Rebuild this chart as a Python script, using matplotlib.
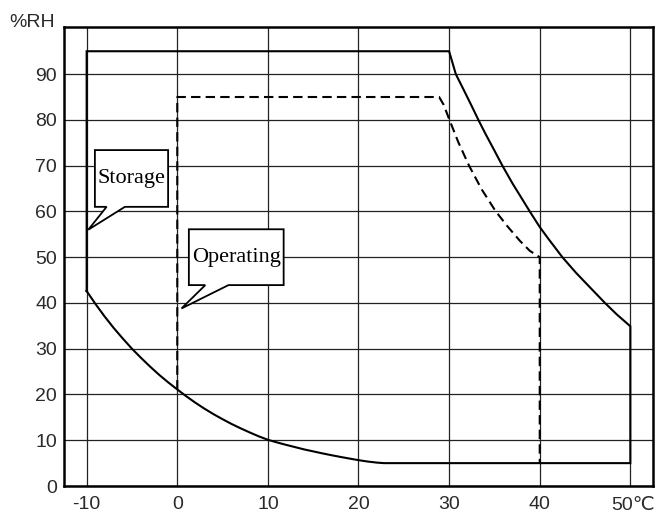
import numpy as np
import matplotlib.pyplot as plt
from matplotlib.patches import Polygon
from matplotlib.transforms import blended_transform_factory

# storage range (solid line)
storage_upper_t = [30, 30.74, 31.5, 32.5, 33.23, 34, 35, 35.88, 37, 38, 38.9, 40,
                   41, 42.5, 44, 45.5, 47.2, 48.5, 50]
storage_upper_rh = [95, 90, 87, 83, 80, 77, 73.3, 70, 66.1, 62.9, 60, 56.6,
                    53.9, 50, 46.6, 43.5, 40, 37.5, 34.9]
lower_t = [-10, -9, -8, -7, -6, -5, -4, -3, -2, -1, 0, 1, 2, 3, 4, 5, 6, 7, 8, 9, 10,
           11, 12, 13, 14, 15, 16, 17, 18, 19, 20, 21, 22, 22.8]
lower_rh = [42.6, 39.7, 37.0, 34.5, 32.2, 30.0, 28.0, 26.1, 24.3, 22.65, 21.1, 19.6, 18.2,
            16.9, 15.7, 14.6, 13.55, 12.6, 11.7, 10.85, 10.1, 9.53, 9.0, 8.5, 8.0, 7.57,
            7.14, 6.74, 6.36, 6.0, 5.65, 5.35, 5.12, 5.0]
storage_top = 95
storage_min_t, storage_max_t = -10, 50
floor_rh = 5

# operating range (dashed line)
oper_curve_t = [28.9, 29.4, 30, 31, 32.2, 33.6, 35.15, 36.5, 37.8, 38.9, 40]
oper_curve_rh = [85, 83.3, 80.2, 75.2, 70, 64.8, 60, 56.6, 53.6, 51.4, 50]
oper_top = 85
oper_min_t, oper_max_t = 0, 40
oper_low_rh = 21.1

x_ticks = [-10, 0, 10, 20, 30, 40, 50]
x_labels = ['-10', '0', '10', '20', '30', '40', '']
y_ticks = [0, 10, 20, 30, 40, 50, 60, 70, 80, 90]

# callouts: label, box (x0, x1, y0, y1), tail base x (a, b), tail tip
callouts = [
    ('Storage', (-9.09, -1.01, 61.0, 73.4), (-7.8, -5.78), (-9.82, 56)),
    ('Operating', (1.28, 11.74, 43.9, 56.1), (3.09, 5.65), (0.47, 38.8)),
]

fig = plt.figure(figsize=(6.57, 5.13), dpi=100)
ax = fig.add_axes([0.0974, 0.0526, 0.8965, 0.8948])

lw = 1.5
# storage outline
st_x = [storage_min_t] * 2 + storage_upper_t + [storage_max_t, lower_t[-1]] + lower_t[::-1]
st_y = [lower_rh[0], storage_top] + storage_upper_rh + [floor_rh, floor_rh] + lower_rh[::-1]
ax.plot(st_x, st_y, color='black', lw=lw, zorder=3, solid_joinstyle='miter')

# operating outline
op_x = [oper_min_t, oper_min_t] + oper_curve_t + [oper_max_t]
op_y = [oper_low_rh, oper_top] + oper_curve_rh + [floor_rh]
ax.plot(op_x, op_y, color='black', lw=lw, ls=(0, (4.5, 2.5)), zorder=3)

for txt, (x0, x1, y0, y1), (a, b), (tx, ty) in callouts:
    pts = [(x0, y1), (x1, y1), (x1, y0), (b, y0), (tx, ty), (a, y0), (x0, y0)]
    ax.add_patch(Polygon(pts, closed=True, facecolor='white', edgecolor='black', lw=1.3, zorder=4))
    ax.text((x0 + x1) / 2, (y0 + y1) / 2, txt, ha='center', va='center', fontsize=16,
            family='Liberation Serif', zorder=5)

ax.set_xlim(-12.5, 52.5)
ax.set_ylim(0, 100.3)
ax.set_xticks(x_ticks)
ax.set_xticklabels(x_labels)
ax.set_yticks(y_ticks)
ax.grid(True, color='#222222', lw=0.9)
ax.set_axisbelow(True)
ax.tick_params(length=0, labelsize=14, labelcolor='#2a2a2a', pad=5)
ax.tick_params(axis='x', pad=7.5)
for lab in ax.get_xticklabels() + ax.get_yticklabels():
    lab.set_family('Liberation Sans')
for s in ax.spines.values():
    s.set_linewidth(1.8)

fig.text(55 / 657, 1 - 23 / 513, '%RH', ha='right', va='center', fontsize=14,
         color='#2a2a2a', family='Liberation Sans')
# last x label with the unit, sits a little left of its grid line
trans = blended_transform_factory(ax.transData, ax.transAxes)
ax.text(47.9, -10.5 / 459, '50\u2103', transform=trans, ha='left', va='top', fontsize=14,
        color='#2a2a2a', family=['Liberation Sans', 'DejaVu Sans'])

fig.savefig('out.png', dpi=100)
